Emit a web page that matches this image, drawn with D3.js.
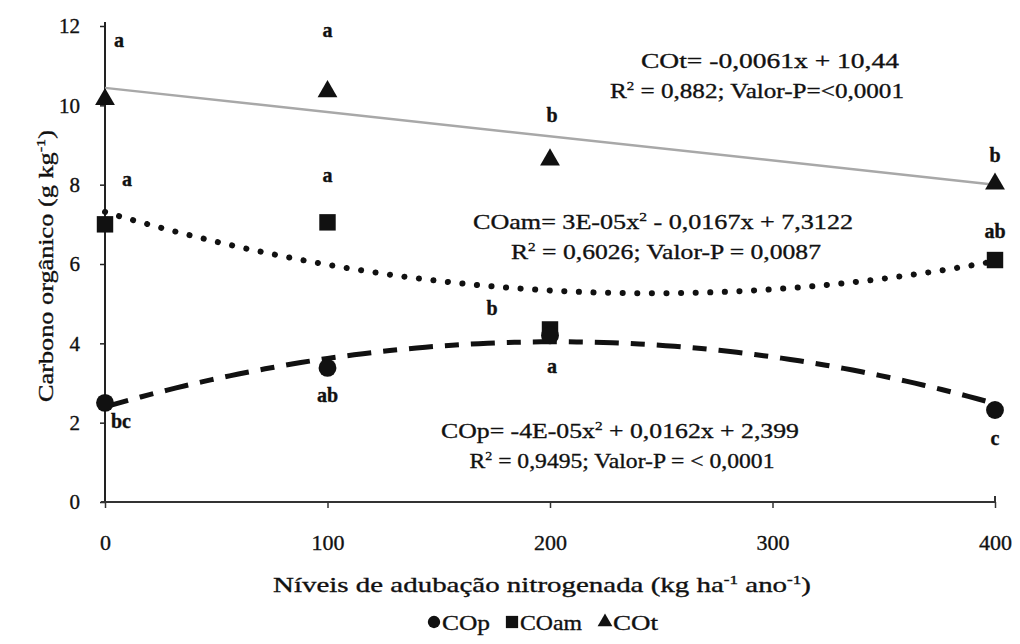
<!DOCTYPE html>
<html>
<head>
<meta charset="utf-8">
<script src="https://cdn.jsdelivr.net/npm/d3@7"></script>
<style>
  body { margin: 0; background: #fff; }
  text { font-family: "Liberation Serif", "DejaVu Serif", serif; fill: #111; stroke: #111; stroke-width: 0.35px; }
</style>
</head>
<body>
<div id="chart"></div>
<script>
// doses of N (kg/ha/ano)
let doses = [0, 100, 200, 400];

// measured means
let cop  = [2.5, 3.38, 4.2, 2.32];
let coam = [7.0, 7.05, 4.35, 6.1];
let cot  = [10.15, 10.35, 8.63, 8.02];

// Tukey letters
let copLetters  = ["bc", "ab", "a", "c"];
let coamLetters = ["a", "a", "b", "ab"];
let cotLetters  = ["a", "a", "b", "b"];

// trend coefficients [a, b, c] for a*x^2 + b*x + c
let copFit  = [-4e-5, 0.0162, 2.399];
let coamFit = [3.4e-5, -0.0167, 7.3122];
let cotFit  = [0, -0.0061, 10.44];

let yTicks = [0, 2, 4, 6, 8, 10, 12];
let xTicks = [0, 100, 200, 300, 400];

let width = 1020, height = 644;

let svg = d3.select("#chart").append("svg")
    .attr("width", width)
    .attr("height", height);

let x = d3.scaleLinear().domain([0, 400]).range([105, 995]);
let y = d3.scaleLinear().domain([0, 12]).range([502, 26]);

// axes
let yAxis = svg.append("g")
    .attr("transform", `translate(${x(0)},0)`)
    .call(d3.axisLeft(y).tickValues(yTicks).tickSize(5).tickFormat(d3.format("d")));
yAxis.select(".domain").attr("d", `M0,${y(12) - 4}V${y(0)}`).attr("stroke", "#222").attr("stroke-width", 2);
yAxis.selectAll(".tick line").attr("stroke", "#222").attr("stroke-width", 1.5);
yAxis.selectAll(".tick text").attr("x", -25).style("font-size", "21px").attr("fill", "#222");

let xAxis = svg.append("g")
    .attr("transform", `translate(0,${y(0)})`)
    .call(d3.axisBottom(x).tickValues(xTicks).tickSize(6).tickFormat(d3.format("d")));
xAxis.select(".domain").attr("d", `M${x(0) - 4},0H${x(400)}V-6`).attr("stroke", "#333").attr("stroke-width", 2).attr("fill", "none");
xAxis.selectAll(".tick line").attr("stroke", "#333").attr("stroke-width", 1.5);
xAxis.selectAll(".tick text").attr("y", 32).style("font-size", "22px").attr("fill", "#222");

// axis titles
svg.append("text")
    .attr("transform", `translate(53,${(y(0) + y(12)) / 2 + 2}) rotate(-90)`)
    .attr("text-anchor", "middle")
    .style("font-size", "21px")
    .attr("textLength", 272).attr("lengthAdjust", "spacingAndGlyphs")
    .html('Carbono orgânico (g kg<tspan dy="-8" font-size="13px">-1</tspan><tspan dy="8">)</tspan>');

svg.append("text")
    .attr("x", 542).attr("y", 592)
    .attr("text-anchor", "middle")
    .style("font-size", "22px")
    .attr("textLength", 538).attr("lengthAdjust", "spacingAndGlyphs")
    .html('Níveis de adubação nitrogenada (kg ha<tspan dy="-8" font-size="13px">-1</tspan><tspan dy="8"> ano</tspan><tspan dy="-8" font-size="13px">-1</tspan><tspan dy="8">)</tspan>');

// trend lines
let xs = d3.range(0, 401, 4);
let poly = f => d => f[0] * d * d + f[1] * d + f[2];
let line = f => d3.line().x(d => x(d)).y(d => y(poly(f)(d)));

svg.append("path").datum([0, 400])
    .attr("d", line(cotFit))
    .attr("fill", "none").attr("stroke", "#a8a8a8").attr("stroke-width", 2.5);

svg.append("path").datum(xs)
    .attr("d", line(coamFit))
    .attr("fill", "none").attr("stroke", "#111").attr("stroke-width", 6)
    .attr("stroke-linecap", "round").attr("stroke-dasharray", "0.1 14.5");

svg.append("path").datum(xs)
    .attr("d", line(copFit))
    .attr("fill", "none").attr("stroke", "#111").attr("stroke-width", 5)
    .attr("stroke-dasharray", "24 12 14 12");

// markers
let sym = (type, size) => d3.symbol().type(type).size(size)();

svg.selectAll(".cot").data(doses).enter().append("path")
    .attr("transform", (d, i) => `translate(${x(d)},${y(cot[i])})`)
    .attr("d", sym(d3.symbolTriangle, 170)).attr("fill", "#111");

svg.selectAll(".coam").data(doses).enter().append("path")
    .attr("transform", (d, i) => `translate(${x(d)},${y(coam[i])})`)
    .attr("d", sym(d3.symbolSquare, 270)).attr("fill", "#111");

svg.selectAll(".cop").data(doses).enter().append("path")
    .attr("transform", (d, i) => `translate(${x(d)},${y(cop[i])})`)
    .attr("d", sym(d3.symbolCircle, 250)).attr("fill", "#111");

// letters
let letterOffsets = {
    cot:  [[14, -52], [0, -54], [2, -38], [0, -22]],
    coam: [[22, -38], [0, -40], [-58, -14], [0, -22]],
    cop:  [[16, 25], [0, 34], [2, 38], [0, 35]]
};
function letters(vals, labels, offs) {
    svg.append("g").selectAll("text").data(doses).enter().append("text")
        .attr("x", (d, i) => x(d) + offs[i][0])
        .attr("y", (d, i) => y(vals[i]) + offs[i][1])
        .attr("text-anchor", "middle")
        .style("font-size", "20px").style("font-weight", "bold")
        .text((d, i) => labels[i]);
}
letters(cot, cotLetters, letterOffsets.cot);
letters(coam, coamLetters, letterOffsets.coam);
letters(cop, copLetters, letterOffsets.cop);

// equations
let sup = s => `<tspan dy="-8" font-size="13px">${s}</tspan>`;
function eqLine(cx, cy, len, html) {
    svg.append("text").attr("x", cx).attr("y", cy).attr("text-anchor", "middle")
        .style("font-size", "22px")
        .attr("textLength", len).attr("lengthAdjust", "spacingAndGlyphs")
        .html(html);
}
eqLine(770, 68, 258, "COt= -0,0061x + 10,44");
eqLine(757, 98, 294, `R${sup("2")}<tspan dy="8"> = 0,882; Valor-P=&lt;0,0001</tspan>`);
eqLine(663, 229, 380, `COam= 3E-05x${sup("2")}<tspan dy="8"> - 0,0167x + 7,3122</tspan>`);
eqLine(666, 259, 310, `R${sup("2")}<tspan dy="8"> = 0,6026; Valor-P = 0,0087</tspan>`);
eqLine(620, 438, 358, `COp= -4E-05x${sup("2")}<tspan dy="8"> + 0,0162x + 2,399</tspan>`);
eqLine(622, 468, 305, `R${sup("2")}<tspan dy="8"> = 0,9495; Valor-P = &lt; 0,0001</tspan>`);

// legend
let legendItems = [
    {type: d3.symbolCircle, size: 120, label: "COp", x: 434, len: 48},
    {type: d3.symbolSquare, size: 150, label: "COam", x: 512, len: 62},
    {type: d3.symbolTriangle, size: 95, label: "COt", x: 605, len: 45}
];
let lg = svg.append("g");
legendItems.forEach(it => {
    lg.append("path").attr("transform", `translate(${it.x},622)`)
        .attr("d", sym(it.type, it.size)).attr("fill", "#111");
    lg.append("text").attr("x", it.x + 8).attr("y", 630)
        .style("font-size", "22px")
        .attr("textLength", it.len).attr("lengthAdjust", "spacingAndGlyphs")
        .text(it.label);
});
</script>
</body>
</html>
